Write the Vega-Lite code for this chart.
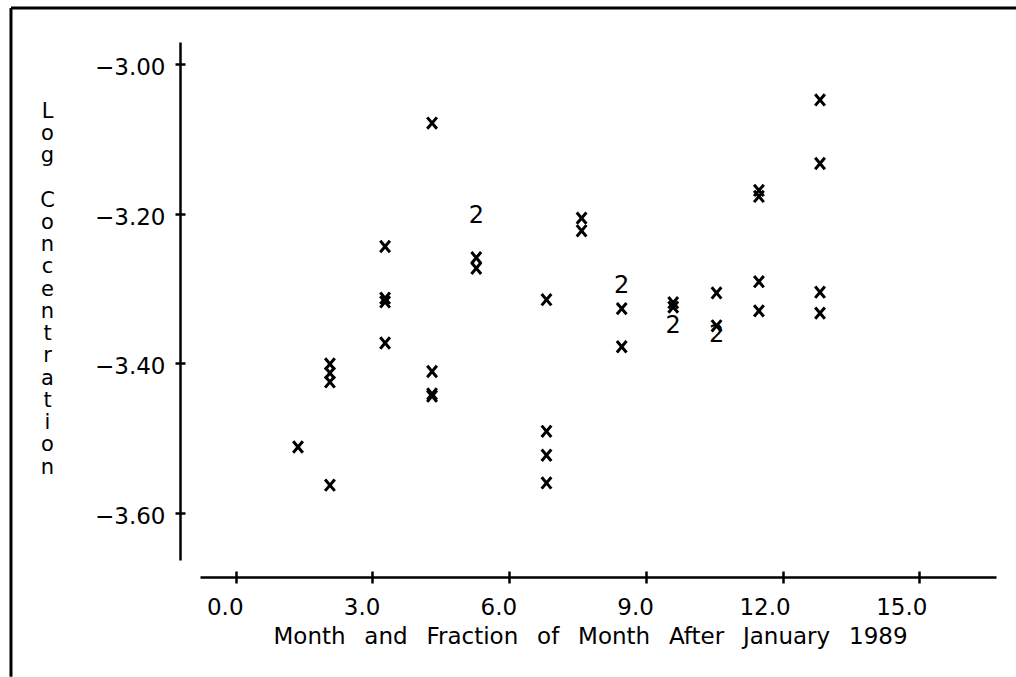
{
  "$schema": "https://vega.github.io/schema/vega-lite/v6.json",
  "width": 796,
  "height": 518,
  "autosize": {"type": "none"},
  "padding": {"left": 200, "top": 42, "right": 20, "bottom": 117},
  "background": "white",
  "config": {"view": {"stroke": null}, "font": "DejaVu Sans"},
  "datasets": {
    "obs": [
      {"month": 1.37, "logc": -3.512, "n": 1},
      {"month": 2.07, "logc": -3.401, "n": 1},
      {"month": 2.07, "logc": -3.413, "n": 1},
      {"month": 2.07, "logc": -3.425, "n": 1},
      {"month": 2.07, "logc": -3.563, "n": 1},
      {"month": 3.28, "logc": -3.244, "n": 1},
      {"month": 3.28, "logc": -3.313, "n": 1},
      {"month": 3.28, "logc": -3.318, "n": 1},
      {"month": 3.28, "logc": -3.373, "n": 1},
      {"month": 4.31, "logc": -3.079, "n": 1},
      {"month": 4.31, "logc": -3.411, "n": 1},
      {"month": 4.31, "logc": -3.441, "n": 1},
      {"month": 4.31, "logc": -3.444, "n": 1},
      {"month": 5.28, "logc": -3.201, "n": 2},
      {"month": 5.28, "logc": -3.259, "n": 1},
      {"month": 5.28, "logc": -3.273, "n": 1},
      {"month": 6.82, "logc": -3.315, "n": 1},
      {"month": 6.82, "logc": -3.491, "n": 1},
      {"month": 6.82, "logc": -3.523, "n": 1},
      {"month": 6.82, "logc": -3.56, "n": 1},
      {"month": 7.59, "logc": -3.206, "n": 1},
      {"month": 7.59, "logc": -3.223, "n": 1},
      {"month": 8.47, "logc": -3.295, "n": 2},
      {"month": 8.47, "logc": -3.327, "n": 1},
      {"month": 8.47, "logc": -3.378, "n": 1},
      {"month": 9.6, "logc": -3.319, "n": 1},
      {"month": 9.6, "logc": -3.325, "n": 1},
      {"month": 9.6, "logc": -3.348, "n": 2},
      {"month": 10.55, "logc": -3.306, "n": 1},
      {"month": 10.55, "logc": -3.35, "n": 1},
      {"month": 10.55, "logc": -3.36, "n": 2},
      {"month": 11.48, "logc": -3.169, "n": 1},
      {"month": 11.48, "logc": -3.177, "n": 1},
      {"month": 11.48, "logc": -3.291, "n": 1},
      {"month": 11.48, "logc": -3.33, "n": 1},
      {"month": 12.82, "logc": -3.048, "n": 1},
      {"month": 12.82, "logc": -3.133, "n": 1},
      {"month": 12.82, "logc": -3.305, "n": 1},
      {"month": 12.82, "logc": -3.333, "n": 1}
    ],
    "frame": [{"left": -4.926, "right": 17.12, "top": -2.9252, "bottom": -3.8192}]
  },
  "resolve": {"axis": {"x": "independent", "y": "independent"}},
  "layer": [
    {
      "data": {"name": "obs"},
      "transform": [{"filter": "datum.n == 1"}],
      "mark": {"type": "point", "shape": "M-0.85,-1L0.85,1M-0.85,1L0.85,-1", "size": 130, "filled": false, "stroke": "black", "strokeWidth": 3, "opacity": 1},
      "encoding": {
        "x": {
          "field": "month", "type": "quantitative",
          "scale": {"domain": [-0.78, 16.68], "nice": false, "zero": false},
          "axis": {
            "orient": "bottom", "offset": 17, "values": [0, 3, 6, 9, 12, 15], "format": ".1f",
            "grid": false, "domainColor": "black", "domainWidth": 2.5,
            "tickColor": "black", "tickWidth": 2.5, "tickSize": 6,
            "labelAlign": "right", "labelOffset": 7.5, "labelBaseline": "top", "labelPadding": 13.6,
            "labelFontSize": 23, "labelColor": "black", "labelFont": "DejaVu Sans",
            "title": "Month\u2002 and\u2002 Fraction\u2002 of\u2002 Month\u2002 After\u2002 January\u2002 1989",
            "titleFontSize": 23, "titleFontWeight": "normal", "titleColor": "black", "titleFont": "DejaVu Sans",
            "titleAlign": "center", "titleBaseline": "alphabetic", "titleX": 390, "titleY": 66
          }
        },
        "y": {
          "field": "logc", "type": "quantitative",
          "scale": {"domain": [-3.663, -2.9706], "nice": false, "zero": false},
          "axis": {
            "orient": "left", "offset": 20, "values": [-3.6, -3.4, -3.2, -3.0], "format": ".2f",
            "grid": false, "domainColor": "black", "domainWidth": 2.5,
            "tickColor": "black", "tickWidth": 2.5, "tickSize": 5,
            "labelAlign": "right", "labelBaseline": "middle", "labelOffset": 3.5, "labelPadding": 10,
            "labelFontSize": 23, "labelColor": "black", "labelFont": "DejaVu Sans",
            "title": ["L", "o", "g"],
            "titleFontSize": 21, "titleFontWeight": "normal", "titleColor": "black", "titleFont": "DejaVu Sans",
            "titleAngle": 0, "titleAlign": "center", "titleBaseline": "alphabetic", "titleLineHeight": 22.25,
            "titleX": -133, "titleY": 75
          }
        }
      }
    },
    {
      "data": {"name": "obs"},
      "transform": [{"filter": "datum.n == 2"}],
      "mark": {"type": "text", "text": "2", "fontSize": 24, "font": "DejaVu Sans", "color": "black", "align": "center", "baseline": "alphabetic", "dy": 8.75},
      "encoding": {
        "x": {
          "field": "month", "type": "quantitative",
          "scale": {"domain": [-0.78, 16.68], "nice": false, "zero": false},
          "axis": {"orient": "bottom", "offset": 11, "values": [0, 3, 6, 9, 12, 15], "grid": false, "domain": false, "labels": false, "title": null, "tickColor": "black", "tickWidth": 2.5, "tickSize": 6}
        },
        "y": {
          "field": "logc", "type": "quantitative",
          "scale": {"domain": [-3.663, -2.9706], "nice": false, "zero": false},
          "axis": {
            "orient": "left", "offset": 15, "values": [-3.6, -3.4, -3.2, -3.0], "grid": false, "domain": false, "labels": false,
            "tickColor": "black", "tickWidth": 2.5, "tickSize": 5,
            "title": ["C", "o", "n", "c", "e", "n", "t", "r", "a", "t", "i", "o", "n"],
            "titleFontSize": 21, "titleFontWeight": "normal", "titleColor": "black", "titleFont": "DejaVu Sans",
            "titleAngle": 0, "titleAlign": "center", "titleBaseline": "alphabetic", "titleLineHeight": 22.25,
            "titleX": -138, "titleY": 164
          }
        }
      }
    },
    {
      "data": {"name": "frame"},
      "mark": {"type": "rule", "color": "black", "strokeWidth": 3},
      "encoding": {
        "x": {"field": "left", "type": "quantitative", "scale": {"domain": [-0.78, 16.68], "nice": false, "zero": false}, "axis": null},
        "y": {"field": "top", "type": "quantitative", "scale": {"domain": [-3.663, -2.9706], "nice": false, "zero": false}, "axis": null},
        "y2": {"field": "bottom"}
      }
    },
    {
      "data": {"name": "frame"},
      "mark": {"type": "rule", "color": "black", "strokeWidth": 3},
      "encoding": {
        "x": {"field": "left", "type": "quantitative", "scale": {"domain": [-0.78, 16.68], "nice": false, "zero": false}, "axis": null},
        "x2": {"field": "right"},
        "y": {"field": "top", "type": "quantitative", "scale": {"domain": [-3.663, -2.9706], "nice": false, "zero": false}, "axis": null}
      }
    }
  ]
}
